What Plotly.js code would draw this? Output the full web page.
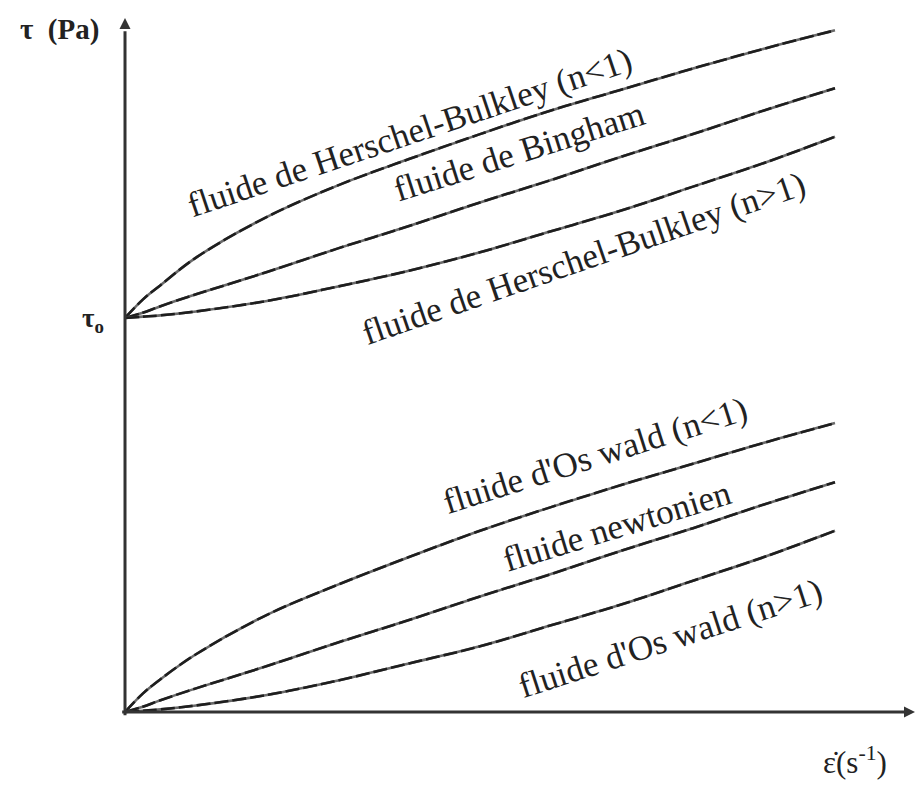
<!DOCTYPE html>
<html>
<head>
<meta charset="utf-8">
<script src="https://cdn.plot.ly/plotly-3.0.1.min.js"></script>
<style>html,body{margin:0;padding:0;background:#fff;}#chart{width:915px;height:785px;}</style>
</head>
<body>
<div id="chart"></div>
<script>
// shear rate (arbitrary units, axis has no ticks)
const shearRate = [0, 0.25, 0.5, 1, 2, 3, 4, 5, 6, 7, 8, 9, 10];
// shear stress (arbitrary units, tau0 = 3)
const herschelBulkleyLt1 = [3.00, 3.14, 3.25, 3.46, 3.77, 4.01, 4.21, 4.40, 4.58, 4.74, 4.90, 5.05, 5.19];
const bingham            = [3.00, 3.04, 3.09, 3.18, 3.35, 3.53, 3.70, 3.88, 4.05, 4.23, 4.40, 4.58, 4.75];
const herschelBulkleyGt1 = [3.00, 3.01, 3.02, 3.05, 3.13, 3.24, 3.36, 3.50, 3.66, 3.82, 4.00, 4.18, 4.38];
const ostwaldLt1         = [0.00, 0.14, 0.25, 0.44, 0.74, 0.97, 1.18, 1.38, 1.56, 1.73, 1.89, 2.05, 2.20];
const newtonian          = [0.00, 0.04, 0.09, 0.18, 0.35, 0.53, 0.70, 0.88, 1.05, 1.23, 1.40, 1.58, 1.75];
const ostwaldGt1         = [0.00, 0.01, 0.02, 0.05, 0.13, 0.24, 0.37, 0.50, 0.66, 0.82, 1.00, 1.18, 1.38];
const seriesNames = [
  "fluide de Herschel-Bulkley (n<1)",
  "fluide de Bingham",
  "fluide de Herschel-Bulkley (n>1)",
  "fluide d'Os wald (n<1)",
  "fluide newtonien",
  "fluide d'Os wald (n>1)"
];
const seriesValues = [herschelBulkleyLt1, bingham, herschelBulkleyGt1, ostwaldLt1, newtonian, ostwaldGt1];

const xMin = -0.141, xMax = 11.127, yMin = -0.076, yMax = 5.284;
const ink = '#222';
const axisInk = '#333';
const font = {family: 'Liberation Serif, Times New Roman, serif', color: ink};

const traces = [];
seriesValues.forEach((v, i) => {
  traces.push({
    x: shearRate, y: v, type: 'scatter', mode: 'lines', name: seriesNames[i],
    line: {color: '#6a6a6a', width: 2.6, shape: 'spline', smoothing: 1},
    hoverinfo: 'skip', showlegend: false
  });
  traces.push({
    x: shearRate, y: v, type: 'scatter', mode: 'lines', name: seriesNames[i],
    line: {color: '#1e1e1e', width: 2.6, shape: 'spline', smoothing: 1, dash: '14px,4px'},
    hoverinfo: 'skip', showlegend: false
  });
});
// arrow heads at axis ends
traces.push({
  x: [0], y: [yMax], type: 'scatter', mode: 'markers', cliponaxis: false,
  marker: {symbol: 'arrow-up', size: 11, color: axisInk}, hoverinfo: 'skip', showlegend: false
});
traces.push({
  x: [xMax], y: [0], type: 'scatter', mode: 'markers', cliponaxis: false,
  marker: {symbol: 'arrow-right', size: 11, color: axisInk}, hoverinfo: 'skip', showlegend: false
});

const shapes = [
  {type: 'line', xref: 'x', yref: 'y', x0: 0, y0: -0.025, x1: 0, y1: yMax - 0.1, line: {color: axisInk, width: 3}},
  {type: 'line', xref: 'x', yref: 'y', x0: -0.04, y0: 0, x1: xMax - 0.15, y1: 0, line: {color: axisInk, width: 3}}
];

// label placement (center in data coords, angle)
const labelPos = [
  [4.02, 4.41, -18.5],
  [5.56, 4.27, -17.5],
  [6.46, 3.45, -19],
  [6.63, 1.95, -17.5],
  [6.93, 1.41, -17],
  [7.68, 0.56, -18]
];
const annotations = seriesNames.map((t, i) => ({
  x: labelPos[i][0], y: labelPos[i][1], xref: 'x', yref: 'y',
  xanchor: 'center', yanchor: 'middle',
  text: t.replace('<', '&lt;').replace('>', '&gt;'),
  textangle: labelPos[i][2], showarrow: false,
  font: Object.assign({size: 35}, font)
}));
// axis titles and tau0 tick (paper coords)
annotations.push({x: -0.0688, y: 0.983, xref: 'paper', yref: 'paper', xanchor: 'center', yanchor: 'middle',
  showarrow: false, text: '<b>τ  (Pa)</b>', font: Object.assign({size: 29}, font)});
annotations.push({x: -0.0275, y: 0.571, xref: 'paper', yref: 'paper', xanchor: 'center', yanchor: 'middle',
  showarrow: false, text: '<b>τ<sub>o</sub></b>', font: Object.assign({size: 27}, font)});
annotations.push({x: 0.925, y: -0.054, xref: 'paper', yref: 'paper', xanchor: 'center', yanchor: 'middle',
  showarrow: false, text: 'ε\u0307(s<sup>-1</sup>)', font: Object.assign({size: 31}, font)});

const layout = {
  width: 915, height: 785,
  margin: {l: 115, r: 0, t: 18, b: 63},
  paper_bgcolor: '#fff', plot_bgcolor: '#fff',
  xaxis: {range: [xMin, xMax], showgrid: false, zeroline: false, showticklabels: false, ticks: '', showline: false},
  yaxis: {range: [yMin, yMax], showgrid: false, zeroline: false, showticklabels: false, ticks: '', showline: false},
  shapes: shapes,
  annotations: annotations,
  showlegend: false
};
Plotly.newPlot('chart', traces, layout, {staticPlot: true, displayModeBar: false});
</script>
</body>
</html>
